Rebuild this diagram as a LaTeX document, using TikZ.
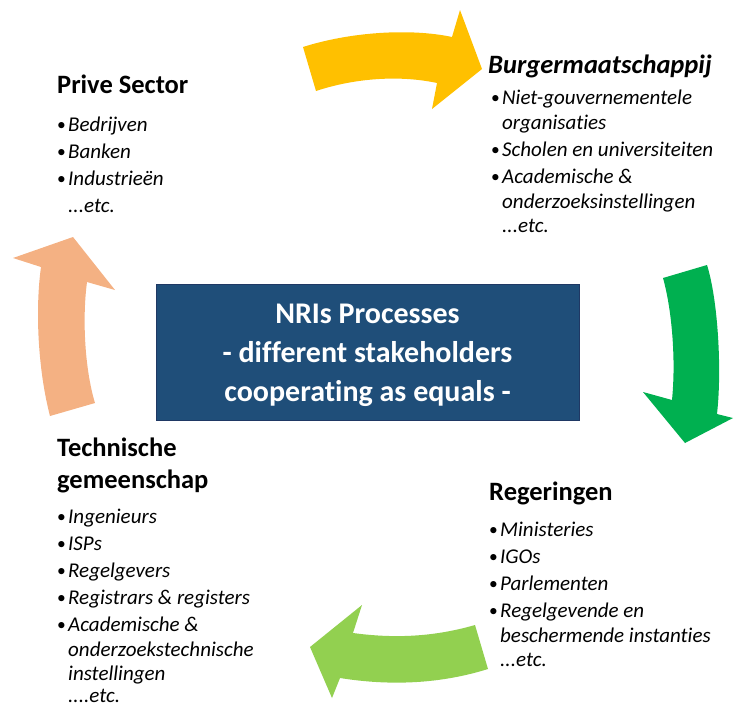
\documentclass[tikz,border=0pt]{standalone}
\usepackage{fontspec}
\setmainfont{Carlito}[Ligatures=NoCommon]
\usetikzlibrary{positioning}
\definecolor{yellowarrow}{HTML}{FFC000}
\definecolor{greenarrow}{HTML}{00B050}
\definecolor{limearrow}{HTML}{92D050}
\definecolor{peacharrow}{HTML}{F4B183}
\definecolor{boxblue}{HTML}{1F4E79}
\definecolor{boxline}{HTML}{1F3864}
\newlength{\bulletw}
\setlength{\bulletw}{11pt}
\newcommand{\itm}[1]{\makebox[\bulletw][l]{\raisebox{1pt}{\fontsize{17.5}{17.5}\selectfont•}}\textit{#1}}
\newcommand{\cnt}[1]{\hspace*{\bulletw}\textit{#1}}
\tikzset{%
  head/.style = {anchor=base west, inner sep=0pt,
        font=\fontsize{26.5}{32}\selectfont\bfseries},
  items/.style = {anchor=base west, inner sep=0pt, align=left,
        font=\fontsize{21}{25}\selectfont},
  centerbox/.style = {rectangle, draw=boxline, fill=boxblue,
        minimum width=423pt, minimum height=136pt},
  centertext/.style = {text=white, align=center,
        font=\fontsize{30}{39}\selectfont\bfseries}
}
\begin{document}
\begin{tikzpicture}[x=1pt,y=-1pt]
\useasboundingbox (0,0) rectangle (734,705);
% cycle arrows
\fill[yellowarrow] (303,47) .. controls (350,32) and (410,28) .. (452,37)
    -- (460,10) -- (482,69) -- (432,109) -- (437,83)
    .. controls (400,75) and (355,78) .. (316,91) -- cycle;
\fill[greenarrow] (663,278) -- (707,265) .. controls (718,300) and (722,370) .. (717,414)
    -- (733,418) -- (685,443) -- (643,392) -- (672,400)
    .. controls (676,360) and (672,310) .. (663,278) -- cycle;
\fill[limearrow] (475,625) .. controls (430,638) and (390,638) .. (353,633)
    -- (362,605) -- (310,647) -- (332,698) -- (340,678)
    .. controls (390,686) and (440,684) .. (488,669) -- cycle;
\fill[peacharrow] (50,416) -- (95,403) .. controls (85,370) and (82,320) .. (87,282)
    -- (115,290) -- (73,237) -- (13,258) -- (41,267)
    .. controls (35,310) and (38,370) .. (50,416) -- cycle;
% centre
\node[centerbox] (nri) at (367.5,352) {};
\node[centertext] (nritext) at ([yshift=-3pt]nri.center) {NRIs Processes\\- different stakeholders\\cooperating as equals -};
% stakeholder groups (items anchored on their last line)
\node[head] (prive) at (57,93) {Prive Sector};
\node[items] (priveitems) at (57,212) {\itm{Bedrijven}\\[2pt]
    \itm{Banken}\\[2pt]
    \itm{Industrieën}\\[2pt]
    \cnt{...etc.}};
\node[head, font=\fontsize{26.5}{32}\selectfont\bfseries\itshape] (burger) at (488,73) {Burgermaatschappij};
\node[items] (burgeritems) at (491,232) {\itm{Niet-gouvernementele}\\
    \cnt{organisaties}\\[2pt]
    \itm{Scholen en universiteiten}\\[2pt]
    \itm{Academische \&}\\
    \cnt{onderzoeksinstellingen}\\[-1pt]
    \cnt{...etc.}};
\node[head] (reg) at (489,500) {Regeringen};
\node[items] (regitems) at (489,666) {\itm{Ministeries}\\[2pt]
    \itm{IGOs}\\[2pt]
    \itm{Parlementen}\\[2pt]
    \itm{Regelgevende en}\\
    \cnt{beschermende instanties}\\[-1pt]
    \cnt{...etc.}};
\node[head, align=left] (tech) at (57,488) {Technische\\gemeenschap};
\node[items] (techitems) at (57,702) {\itm{Ingenieurs}\\[2pt]
    \itm{ISPs}\\[2pt]
    \itm{Regelgevers}\\[2pt]
    \itm{Registrars \& registers}\\[2pt]
    \itm{Academische \&}\\
    \cnt{onderzoekstechnische}\\[-1pt]
    \cnt{instellingen}\\[-3pt]
    \cnt{....etc.}};
\end{tikzpicture}
\end{document}
